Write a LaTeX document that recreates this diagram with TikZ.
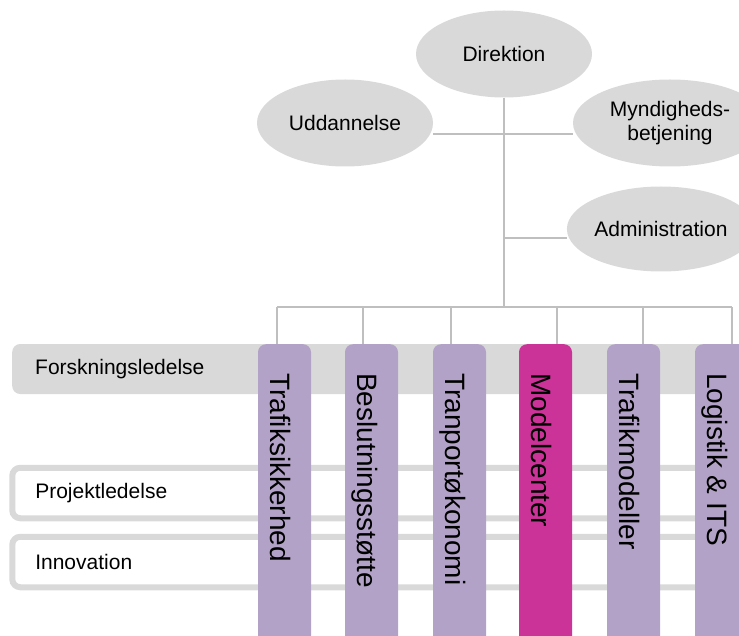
\documentclass[tikz,border=0pt]{standalone}
\usepackage{fontspec}
\setmainfont{Liberation Sans}
\usetikzlibrary{shapes.geometric}
\definecolor{boxgray}{RGB}{217,217,217}
\definecolor{linegray}{RGB}{191,191,191}
\definecolor{unitpurple}{RGB}{179,162,199}
\definecolor{unitpink}{RGB}{204,51,153}
\begin{document}
\begin{tikzpicture}[x=1pt,y=-1pt,
    staff/.style={ellipse,fill=boxgray,minimum width=176pt,minimum height=87pt,
      inner sep=0pt,align=center,font=\fontsize{21}{24}\selectfont},
    band/.style={rectangle,rounded corners=8pt,minimum height=50pt,text width=720pt,
      align=left,inner xsep=23pt,inner ysep=0pt,anchor=west,font=\fontsize{21}{24}\selectfont},
    unit/.style={rectangle,rounded corners=8pt,fill=unitpurple,minimum width=53pt,
      minimum height=330pt,anchor=north,inner sep=0pt},
    unitname/.style={rotate=-90,anchor=base west,inner sep=0pt,font=\fontsize{28}{30}\selectfont},
    wire/.style={draw=linegray,line width=2.2pt}]
  \useasboundingbox (0,0) rectangle (739,636);
  \clip (0,0) rectangle (739,636);

  % staff
  \node[staff] (dir) at (504,54) {Direktion};
  \node[staff] (udd) at (345,123) {Uddannelse};
  \node[staff,minimum width=194pt] (myn) at (670,123) {Myndigheds-\\betjening};
  \node[staff,minimum height=85pt] (adm) at (661,229) {Administration};

  % cross-cutting bands
  \node[band,fill=boxgray] (fl) at (12,369) {Forskningsledelse};
  \node[band,draw=boxgray,line width=6pt,fill=white,minimum height=50.5pt] (pl) at (9.3,493) {Projektledelse};
  \node[band,draw=boxgray,line width=6pt,fill=white,minimum height=50.5pt] (inn) at (9.3,562) {Innovation};

  % wires
  \coordinate (j1) at (504,134);
  \coordinate (j2) at (504,238);
  \coordinate (t1) at (277,307);
  \coordinate (t2) at (363,307);
  \coordinate (t3) at (451,307);
  \coordinate (t4) at (557,307);
  \coordinate (t5) at (643,307);
  \coordinate (t6) at (732,307);
  \draw[wire] (dir.south) -- (dir.south |- t1);
  \draw[wire] (udd.east |- j1) -- (myn.west |- j1);
  \draw[wire] (j2) -- (adm.west |- j2);
  \draw[wire] (t1) -- (t6);

  % units
  \node[unit] (ts) at (284.5,344) {};
  \node[unit] (bs) at (371.5,344) {};
  \node[unit] (to) at (459.5,344) {};
  \node[unit,fill=unitpink] (mc) at (545.5,344) {};
  \node[unit] (tm) at (633.5,344) {};
  \node[unit] (li) at (721.5,344) {};
  \node[unitname] at ([xshift=-14.5pt,yshift=-29pt]ts.north) {Trafiksikkerhed};
  \node[unitname] at ([xshift=-14.5pt,yshift=-29pt]bs.north) {Beslutningsstøtte};
  \node[unitname] at ([xshift=-14.5pt,yshift=-29pt]to.north) {Tranportøkonomi};
  \node[unitname] at ([xshift=-14.5pt,yshift=-29pt]mc.north) {Modelcenter};
  \node[unitname] at ([xshift=-14.5pt,yshift=-29pt]tm.north) {Trafikmodeller};
  \node[unitname] at ([xshift=-14.5pt,yshift=-29pt]li.north) {Logistik \& ITS};

  \begin{scope}[wire]
    \draw (t1) to (t1 |- ts.north);
    \draw (t2) to (t2 |- bs.north);
    \draw (t3) to (t3 |- to.north);
    \draw (t4) to (t4 |- mc.north);
    \draw (t5) to (t5 |- tm.north);
    \draw (t6) to (t6 |- li.north);
  \end{scope}
\end{tikzpicture}
\end{document}
